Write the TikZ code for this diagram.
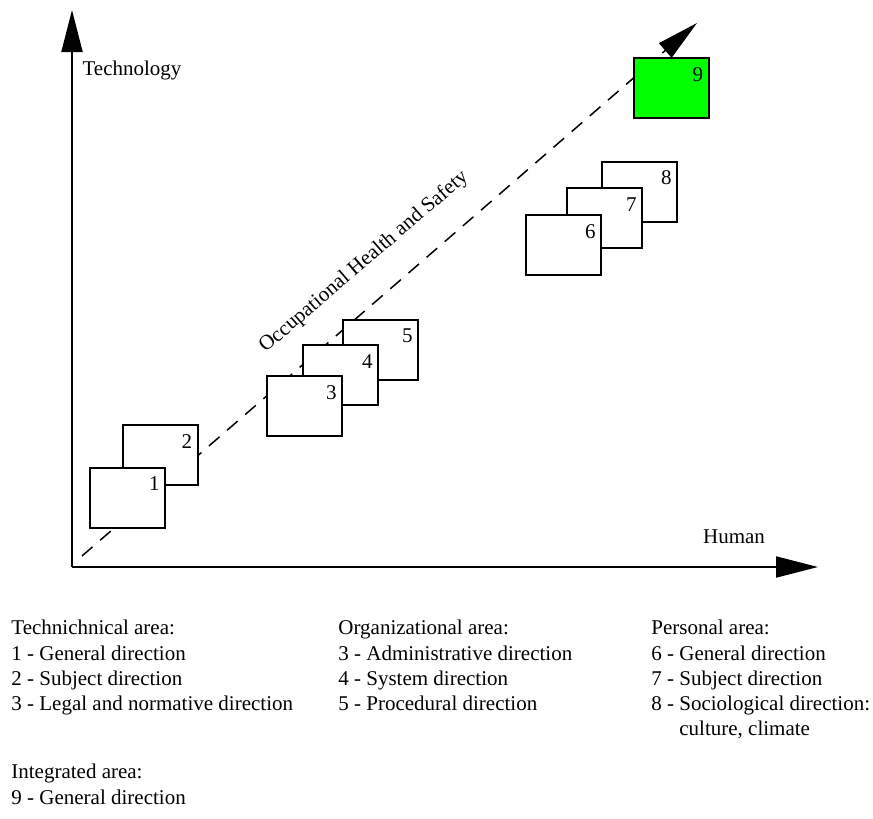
\documentclass[tikz,border=0pt]{standalone}
\usepackage{fontspec}
\setmainfont{Liberation Serif}
\usepackage{tikz}
\usetikzlibrary{arrows.meta}
\definecolor{areagreen}{RGB}{0,255,0}
\tikzset{
	% boxes of the areas, their numbers and the legend text
	area box/.style={draw,line width=1pt,fill=white,minimum width=37.5pt,minimum height=30pt,inner sep=0},
	box num/.style={anchor=north east,inner xsep=3pt,inner ysep=5pt},
	legend text/.style={anchor=north west,align=left,inner sep=0},
	axis/.style={line width=1pt,-{Triangle[length=21pt,width=10.5pt]}}
}
\begin{document}
\begin{tikzpicture}[x=0.5pt,y=-0.5pt,font=\fontsize{10.5}{12.6}\selectfont]
	% macro for one area box with its number
	\newcommand{\areabox}[3][white]{\node[area box,fill=#1](box-#2)at(#3){};
		\node[box num](num-#2)at(box-#2.north east){#2};}
	\useasboundingbox (0,0) rectangle (873,819);
	
	% axes
	\coordinate (O) at (72,567);
	\coordinate (T) at (72,10);
	\coordinate (H) at (818,567);
	\draw[axis] (O) -- (T);
	\draw[axis] (O) -- (H);
	\node (tech) at (132,70) {Technology};
	\node (human) at (734,537) {Human};
	
	% diagonal
	\coordinate (D0) at (82,556);
	\coordinate (D1) at (697,23);
	\draw[line width=0.75pt,dash pattern=on 7pt off 5pt,-{Triangle[length=21pt,width=9.5pt]}] (D0) -- (D1);
	\node[rotate=40.6] (ohs) at (364,262) {Occupational Health and Safety};
	
	\areabox{2}{160,455}
	\areabox{1}{127.5,497.5}
	\areabox{5}{380.5,349.5}
	\areabox{4}{340.5,375}
	\areabox{3}{304.5,406}
	\areabox{8}{639.5,191.5}
	\areabox{7}{604.5,218}
	\areabox{6}{563.5,245}
	\areabox[areagreen]{9}{671,88}
	
	% legend
	\node[legend text] (leg-tech) at (11,620) {Technichnical area:\\1 - General direction\\2 - Subject direction\\3 - Legal and normative direction};
	\node[legend text] (leg-org) at (338,620) {Organizational area:\\3 - Administrative direction\\4 - System direction\\5 - Procedural direction};
	\node[legend text] (leg-pers) at (651,620) {Personal area:\\6 - General direction\\7 - Subject direction\\8 - Sociological direction:\\\phantom{8 - }culture, climate};
	\node[legend text] (leg-int) at (11,764) {Integrated area:\\9 - General direction};
\end{tikzpicture}
\end{document}
